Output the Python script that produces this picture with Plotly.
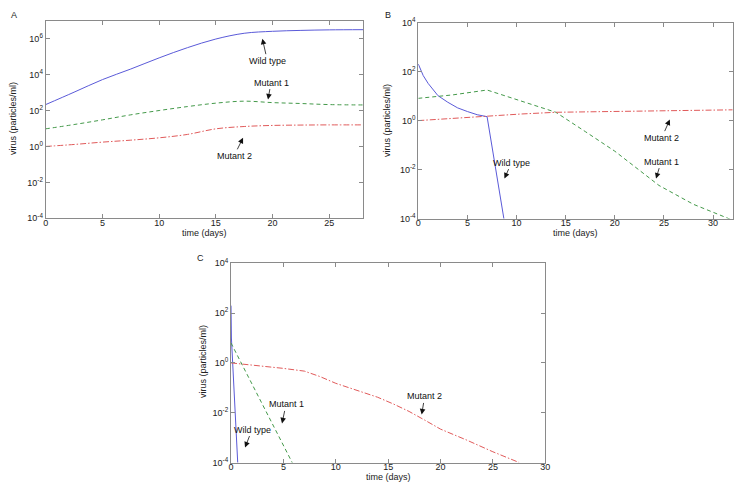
import numpy as np
import plotly.graph_objects as go

# ---------------- data (log10 of virus, particles/ml) ----------------
# Panel A
a_wt_t = [0, 2.5, 5, 7.5, 10, 12.5, 15, 17.5, 20, 22.5, 25, 28]
a_wt_log = [2.33, 3.02, 3.72, 4.31, 4.93, 5.5, 5.98, 6.3, 6.41, 6.46, 6.49, 6.5]
a_m1_t = [0, 2.5, 5, 7.5, 10, 12.5, 15, 17.5, 20, 22.5, 25, 28]
a_m1_log = [0.98, 1.22, 1.48, 1.76, 2.0, 2.22, 2.41, 2.52, 2.44, 2.39, 2.33, 2.31]
a_m2_t = [0, 2.5, 5, 7.5, 10, 12.5, 15, 17.5, 20, 22.5, 25, 28]
a_m2_log = [0.0, 0.11, 0.24, 0.35, 0.48, 0.67, 0.98, 1.11, 1.17, 1.19, 1.2, 1.2]

# Panel B
b_wt_t = [0, 0.25, 0.5, 1, 1.5, 2, 3, 4, 5, 6, 7, 8.7, 9.2]
b_wt_log = [2.31, 2.05, 1.84, 1.52, 1.25, 1.02, 0.75, 0.52, 0.37, 0.24, 0.16, -4.0, -5.2]
b_m1_t = [0, 3.5, 7, 10.5, 14, 17, 20, 24.5, 28, 32]
b_m1_log = [0.91, 1.05, 1.25, 0.8, 0.34, -0.45, -1.25, -2.65, -3.42, -4.07]
b_m2_t = [0, 3.5, 7, 10.5, 14, 20, 26, 32]
b_m2_log = [0.0, 0.1, 0.2, 0.27, 0.34, 0.38, 0.41, 0.44]

# Panel C
c_wt_t = [0, 0.04, 0.64, 0.7]
c_wt_log = [2.3, 1.0, -4.0, -4.5]
c_m1_t = [0, 1, 2, 3, 4, 5, 5.9]
c_m1_log = [0.8, -0.02, -0.85, -1.67, -2.5, -3.33, -4.05]
c_m2_t = [0, 2.5, 5, 7, 8.5, 10, 12, 14, 15.5, 17, 18.5, 20, 22.5, 25, 27.5]
c_m2_log = [0, -0.1, -0.22, -0.33, -0.55, -0.82, -1.1, -1.38, -1.65, -1.95, -2.3, -2.66, -3.1, -3.57, -4.0]

series_names = ["Wild type", "Mutant 1", "Mutant 2"]
x_ticks_a = [0, 5, 10, 15, 20, 25]
x_ticks_bc = [0, 5, 10, 15, 20, 25, 30]
y_exp_a = [-4, -2, 0, 2, 4, 6]
y_exp_bc = [-4, -2, 0, 2, 4]
x_title = "time (days)"
y_title = "virus (particles/ml)"

# ---------------- styling / geometry ----------------
WT_COL = "#5a5ad8"
M1_COL = "#44994a"
M2_COL = "#e05a5a"
AX_COL = "#8a8a8a"
TXT = "#222"
FS = 9
FONT = "Liberation Sans, Arial, Helvetica, sans-serif"
OFF = 8                      # default page margin of the html body
W, H = 745 - OFF, 486 - OFF  # figure size so that it fits the window


def px_x(p):
    return (p - OFF) / W


def px_y(p):
    return 1 - (p - OFF) / H


fig = go.Figure()

panels = [
    ("", "spline", (a_wt_t, a_wt_log), (a_m1_t, a_m1_log), (a_m2_t, a_m2_log)),
    ("2", "linear", (b_wt_t, b_wt_log), (b_m1_t, b_m1_log), (b_m2_t, b_m2_log)),
    ("3", "linear", (c_wt_t, c_wt_log), (c_m1_t, c_m1_log), (c_m2_t, c_m2_log)),
]
styles = [
    dict(color=WT_COL, width=1),
    dict(color=M1_COL, width=1, dash="4px,3px"),
    dict(color=M2_COL, width=1, dash="6px,2px,1.5px,2px"),
]
for suf, shape, *curves in panels:
    for (t, lg), st, nm in zip(curves, styles, series_names):
        fig.add_trace(go.Scatter(
            x=t, y=10 ** np.array(lg, dtype=float), mode="lines",
            line=dict(st, shape=shape), name=nm, showlegend=False,
            xaxis="x" + suf, yaxis="y" + suf))


def exp_label(e):
    return "10<sup>%d</sup>" % e


def xaxis(x0, x1, rng, ticks, anchor):
    return dict(domain=[px_x(x0), px_x(x1)], range=rng, anchor=anchor, tickvals=ticks,
                showline=True, mirror="ticks", linecolor=AX_COL, linewidth=1,
                ticks="inside", ticklen=4, tickcolor=AX_COL, showgrid=False,
                zeroline=False, tickfont=dict(size=FS, color=TXT),
                ticklabelstandoff=-4, automargin=False)


def yaxis(y0, y1, rng, exps, anchor):
    return dict(domain=[px_y(y1), px_y(y0)], type="log", range=rng, anchor=anchor,
                tickvals=[10.0 ** e for e in exps],
                ticktext=[exp_label(e) for e in exps],
                showline=True, mirror="ticks", linecolor=AX_COL, linewidth=1,
                ticks="inside", ticklen=4, tickcolor=AX_COL, showgrid=False,
                zeroline=False, tickfont=dict(size=FS, color=TXT),
                automargin=False)


fig.update_layout(
    width=W, height=H,
    margin=dict(l=0, r=0, t=0, b=0),
    paper_bgcolor="white", plot_bgcolor="white",
    font=dict(family=FONT, size=FS, color=TXT),
    xaxis=xaxis(45.7, 363.3, [0, 28], x_ticks_a, "y"),
    yaxis=yaxis(20.7, 218.3, [-4, 7], y_exp_a, "x"),
    xaxis2=xaxis(418.3, 732.7, [0, 32], x_ticks_bc, "y2"),
    yaxis2=yaxis(22.7, 218.5, [-4, 4], y_exp_bc, "x2"),
    xaxis3=xaxis(231.0, 545.3, [0, 30], x_ticks_bc, "y3"),
    yaxis3=yaxis(263.3, 462.5, [-4, 4], y_exp_bc, "x3"),
)

# axis titles placed as annotations (pixel positions of centres)
for xt_x, xt_y, yt_x, yt_y in [(204, 233, 13, 119), (575, 233, 387, 121), (388, 477, 203, 362)]:
    fig.add_annotation(xref="paper", yref="paper", x=px_x(xt_x), y=px_y(xt_y),
                       text=x_title, showarrow=False, xanchor="center",
                       yanchor="middle", font=dict(size=FS, color=TXT))
    fig.add_annotation(xref="paper", yref="paper", x=px_x(yt_x), y=px_y(yt_y),
                       text=y_title, showarrow=False, textangle=-90,
                       xanchor="center", yanchor="middle",
                       font=dict(size=FS, color=TXT))

# arrow annotations: (axis suffix, text, x, log10 y, ax, ay)
arrows = [
    ("", "Wild type", 19.1, 6.0, 5, 22),
    ("", "Mutant 1", 19.6, 2.61, 3, -17),
    ("", "Mutant 2", 17.4, 0.48, -9, 18),
    ("2", "Wild type", 8.77, -2.37, 7, -16),
    ("2", "Mutant 2", 25.6, 0.04, -8, 18),
    ("2", "Mutant 1", 24.2, -2.37, 5, -17),
    ("3", "Wild type", 1.34, -3.4, 7, -18),
    ("3", "Mutant 1", 4.87, -2.43, 4, -19),
    ("3", "Mutant 2", 18.2, -2.07, 3, -18),
]
for suf, txt, x, ly, ax, ay in arrows:
    fig.add_annotation(xref="x" + suf, yref="y" + suf, x=x, y=ly, text=txt,
                       showarrow=True, arrowhead=2, arrowsize=1.4, arrowwidth=0.8,
                       arrowcolor="#111", ax=ax, ay=ay,
                       font=dict(size=FS, color="#111"))

# panel letters
for lbl, px, py in [("A", 14, 15), ("B", 388, 15), ("C", 201, 258)]:
    fig.add_annotation(xref="paper", yref="paper", x=px_x(px), y=px_y(py),
                       text=lbl, showarrow=False, xanchor="center", yanchor="middle",
                       font=dict(size=FS, color=TXT))

fig.write_html("out.html")
